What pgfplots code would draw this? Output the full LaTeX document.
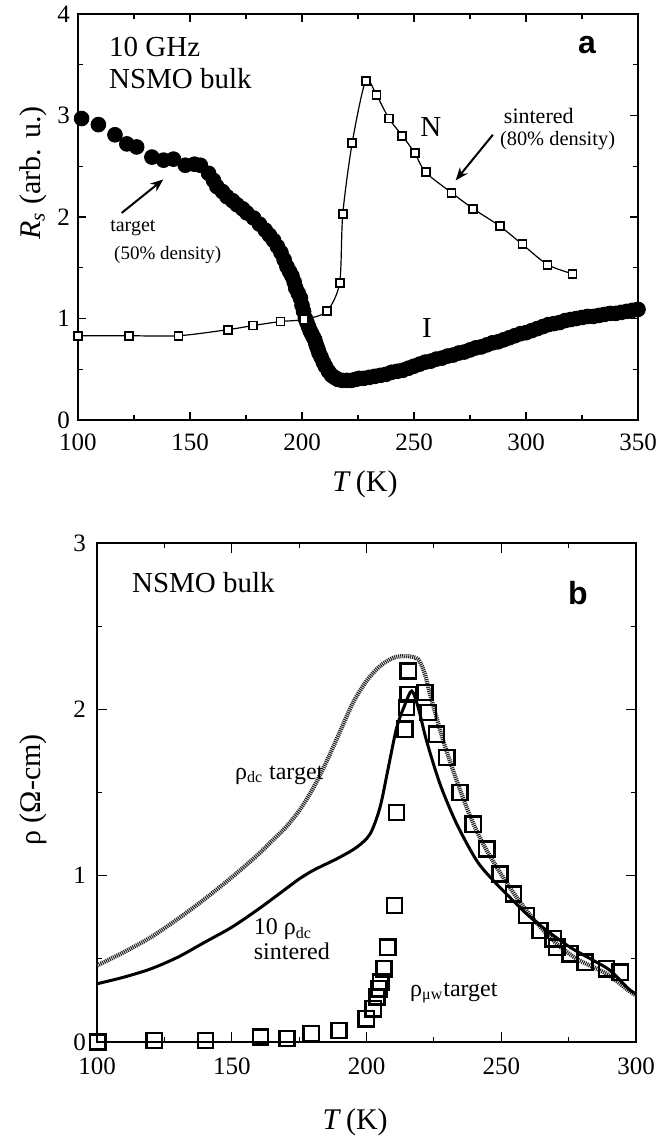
\documentclass[border=0pt]{standalone}
\usepackage{fontspec}
\setmainfont{Liberation Serif}
\setsansfont{Liberation Sans}
\usepackage{pgfplots}
\pgfplotsset{compat=1.18}
\usetikzlibrary{arrows.meta}

% panel a: target (50% density), filled circles
\pgfplotstableread{
T R
101.6 2.97
109.1 2.91
116.5 2.81
121.8 2.72
126.2 2.69
133.0 2.59
138.2 2.56
142.6 2.57
147.9 2.51
152.0 2.52
154.6 2.51
158.3 2.43
160.5 2.36
162.0 2.30
164.5 2.25
166.5 2.20
169.0 2.16
171.0 2.12
173.5 2.08
175.4 2.04
178.4 1.99
181.0 1.93
183.6 1.87
185.5 1.82
187.3 1.77
189.0 1.71
190.6 1.65
192.0 1.58
193.3 1.51
194.5 1.46
195.5 1.42
196.5 1.36
197.2 1.30
198.3 1.25
199.3 1.20
200.0 1.13
200.7 1.07
201.5 1.00
202.2 0.96
202.9 0.92
203.6 0.88
204.3 0.85
205.0 0.82
205.7 0.79
206.2 0.75
206.7 0.72
207.2 0.69
207.6 0.66
208.5 0.62
209.5 0.57
210.4 0.53
211.8 0.48
213.2 0.44
214.5 0.42
216.0 0.40
218.0 0.39
220.0 0.39
222.0 0.39
224.0 0.40
225.5 0.41
227.5 0.41
230.0 0.42
232.5 0.43
235.0 0.44
237.5 0.45
240.0 0.47
242.5 0.48
245.0 0.49
247.5 0.51
250.0 0.53
252.5 0.55
255.0 0.57
257.5 0.58
260.0 0.60
262.5 0.61
265.0 0.63
267.5 0.64
270.0 0.66
272.5 0.67
275.0 0.69
277.5 0.71
280.0 0.72
282.5 0.74
285.0 0.76
287.5 0.77
290.0 0.79
292.5 0.81
295.0 0.83
297.5 0.85
300.0 0.86
302.5 0.88
305.0 0.90
307.5 0.92
310.0 0.94
312.5 0.95
315.0 0.96
317.5 0.98
320.0 0.99
322.5 1.00
325.0 1.01
327.5 1.02
330.0 1.02
332.5 1.03
335.0 1.04
337.5 1.05
340.0 1.05
342.5 1.06
345.0 1.07
347.5 1.08
350.0 1.09
}\targetRs

% panel a: sintered (80% density)
\pgfplotstableread{
T R
100.0 0.83
122.7 0.83
144.9 0.83
167.0 0.89
178.0 0.93
190.4 0.97
201.0 0.99
211.0 1.07
216.8 1.35
218.2 2.03
222.4 2.73
228.4 3.34
233.3 3.20
238.8 2.97
244.8 2.80
250.3 2.63
255.2 2.44
266.7 2.24
276.5 2.08
288.3 1.91
298.4 1.73
309.6 1.53
320.8 1.44
}\sinteredRs

% panel b: rho_dc target
\pgfplotstableread{
T rho
100.0 0.46
110.0 0.54
120.0 0.63
130.0 0.74
140.0 0.86
150.0 0.99
159.3 1.12
165.0 1.21
170.0 1.29
175.0 1.39
180.0 1.52
185.0 1.68
190.0 1.86
195.0 2.04
200.0 2.17
205.0 2.26
210.0 2.31
214.9 2.32
219.2 2.30
221.7 2.21
223.6 2.09
228.5 1.81
233.5 1.57
238.4 1.36
243.3 1.19
249.5 1.02
255.7 0.87
261.9 0.74
270.0 0.60
278.0 0.50
289.1 0.41
297.2 0.31
300.0 0.28
}\rhotarget

% panel b: 10 rho_dc sintered
\pgfplotstableread{
T rho
100.0 0.35
110.0 0.39
120.0 0.44
130.0 0.51
140.0 0.60
150.0 0.69
160.0 0.80
170.0 0.92
175.0 0.98
180.0 1.03
185.0 1.07
190.0 1.11
196.3 1.17
201.3 1.25
205.0 1.41
208.1 1.65
211.2 1.89
214.3 2.03
216.8 2.11
219.2 2.01
222.3 1.81
227.3 1.55
233.5 1.31
240.9 1.09
247.1 0.97
253.2 0.87
259.4 0.77
266.9 0.67
275.5 0.57
284.2 0.49
290.4 0.43
297.2 0.32
300.0 0.29
}\rhosintered

% panel b: rho_muw target, open squares
\pgfplotstableread{
T rho
100.3 0.00
121.2 0.01
140.2 0.01
160.6 0.03
170.5 0.02
179.5 0.05
189.8 0.07
199.9 0.14
202.5 0.20
203.9 0.27
204.6 0.32
205.3 0.36
206.5 0.44
207.9 0.57
210.4 0.82
211.2 1.38
214.3 1.88
214.9 2.01
215.5 2.09
215.5 2.23
221.7 2.10
222.9 1.98
226.0 1.85
229.8 1.71
234.7 1.50
239.6 1.31
244.6 1.16
249.5 1.01
254.5 0.89
259.4 0.76
264.4 0.67
269.3 0.62
270.6 0.57
275.5 0.53
281.1 0.48
289.1 0.44
294.1 0.42
}\rhomuw

\begin{document}
\begin{tikzpicture}
\useasboundingbox (0pt,0pt) rectangle (329pt,569.5pt);
\pgfplotsset{
  every axis/.append style={
    scale only axis,
    axis line style={line width=0.8pt},
    tick align=inside,
    tick pos=both,
    major tick length=4pt,
    minor tick length=2.5pt,
    every tick/.style={black, line width=0.6pt},
    minor x tick num=1,
    minor y tick num=1,
    tick label style={font=\fontsize{12.5}{15}\selectfont},
    /pgf/number format/assume math mode=true,
    label style={font=\fontsize{15}{18}\selectfont},
    clip=false,
  }
}

% ---------- panel a ----------
\begin{axis}[
  at={(39pt,359.5pt)}, anchor=south west,
  width=280pt, height=203pt,
  xmin=100, xmax=350, ymin=0, ymax=4,
  xtick={100,150,200,250,300,350},
  ytick={0,1,2,3,4},
  xticklabel style={yshift=-3.5pt},
  yticklabel style={xshift=-0.5pt},
  xlabel={\textit{T}\,(K)},
  xlabel style={at={(axis description cs:0.5125,-0.158)}, anchor=center},
  ylabel={\textit{R}\textsubscript{\textit{s}} (arb. u.)},
  ylabel style={at={(axis description cs:-0.080,0.608)}, anchor=center},
]
\addplot[only marks, mark=*, mark size=3.7pt, black] table[x=T, y=R] {\targetRs};
\addplot[black, line width=0.6pt, smooth, tension=0.45, mark=square*,
  mark size=2pt, mark options={solid, fill=white, draw=black, line width=0.9pt}]
  table[x=T, y=R] {\sinteredRs};

\node[anchor=west, font=\fontsize{14.5}{17}\selectfont] at (rel axis cs:0.043,0.919) {10 GHz};
\node[anchor=west, font=\fontsize{14.5}{17}\selectfont] at (rel axis cs:0.043,0.842) {NSMO bulk};
\node[font=\sffamily\bfseries\fontsize{16}{18}\selectfont] at (rel axis cs:0.909,0.924) {a};
\node[anchor=west, font=\fontsize{10}{12}\selectfont] at (rel axis cs:0.045,0.473) {target};
\node[anchor=west, font=\fontsize{9.5}{11}\selectfont] at (rel axis cs:0.052,0.406) {(50\% density)};
\node[anchor=west, font=\fontsize{11}{13}\selectfont] at (rel axis cs:0.748,0.749) {sintered};
\node[anchor=west, font=\fontsize{10.2}{12}\selectfont] at (rel axis cs:0.741,0.687) {(80\% density)};
\node[font=\fontsize{14.5}{17}\selectfont] at (rel axis cs:0.630,0.722) {N};
\node[font=\fontsize{14.5}{17}\selectfont] at (rel axis cs:0.623,0.227) {I};
\draw[-{Stealth[length=6.5pt,width=5pt]}, line width=1pt] (axis cs:119.5,2.04) -- (axis cs:138.1,2.37);
\draw[-{Stealth[length=6.5pt,width=5pt]}, line width=1pt] (axis cs:285.2,2.81) -- (axis cs:268.6,2.36);
\end{axis}

% ---------- panel b ----------
\begin{axis}[
  at={(48.5pt,48.5pt)}, anchor=south west,
  width=269.5pt, height=249.5pt,
  xmin=100, xmax=300, ymin=0, ymax=3,
  xtick={100,150,200,250,300},
  ytick={0,1,2,3},
  major tick length=5pt,
  xticklabel style={yshift=-4.5pt},
  yticklabel style={xshift=-2pt},
  xlabel={\textit{T}\,(K)},
  xlabel style={at={(axis description cs:0.479,-0.160)}, anchor=center},
  ylabel={ρ (Ω-cm)},
  ylabel style={at={(axis description cs:-0.119,0.505)}, anchor=center},
]
\addplot[black!85, line width=2.1pt, dash pattern=on 0.55pt off 0.45pt, smooth, tension=0.5]
  table[x=T, y=rho] {\rhotarget};
\addplot[black, line width=1.5pt, smooth, tension=0.5]
  table[x=T, y=rho] {\rhosintered};
\addplot[only marks, mark=square, mark size=3.8pt, mark options={line width=1.2pt}, black]
  table[x=T, y=rho] {\rhomuw};

\node[anchor=west, font=\fontsize{14.5}{17}\selectfont] at (rel axis cs:0.052,0.920) {NSMO bulk};
\node[font=\sffamily\bfseries\fontsize{16}{18}\selectfont] at (rel axis cs:0.892,0.900) {b};
\node[anchor=west, font=\fontsize{12}{14}\selectfont] at (rel axis cs:0.243,0.535) {ρ\textsubscript{dc} target};
\node[anchor=west, font=\fontsize{12}{14}\selectfont] at (rel axis cs:0.278,0.226) {10 ρ\textsubscript{dc}};
\node[anchor=west, font=\fontsize{12}{14}\selectfont] at (rel axis cs:0.278,0.182) {sintered};
\node[anchor=west, font=\fontsize{12}{14}\selectfont] at (rel axis cs:0.568,0.098) {ρ\textsubscript{μw}target};
\end{axis}
\end{tikzpicture}
\end{document}
